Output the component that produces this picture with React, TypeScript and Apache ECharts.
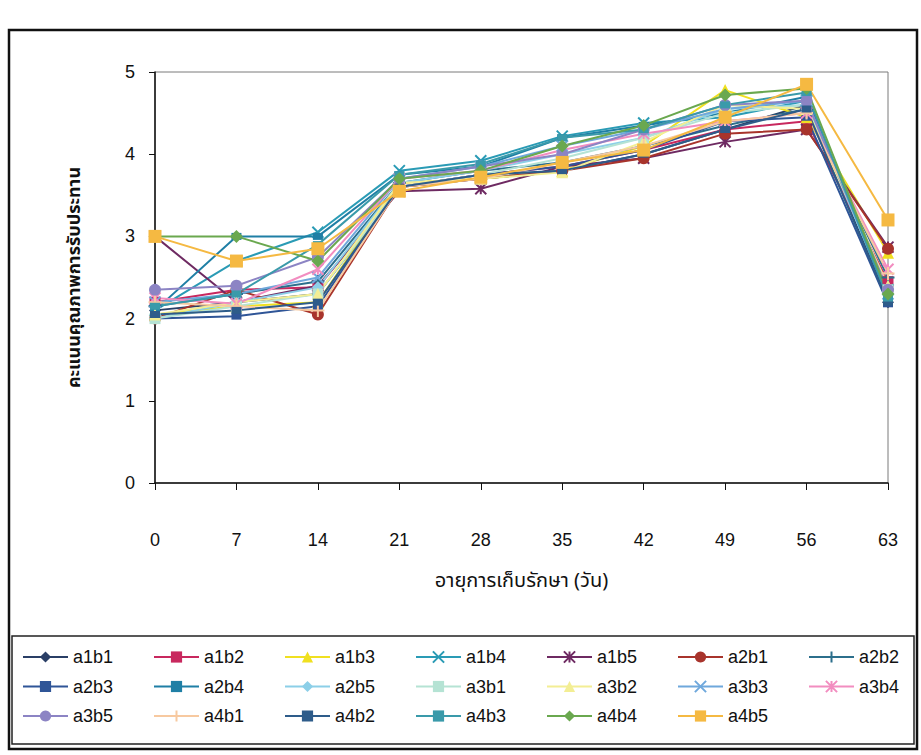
import React, { useEffect, useRef } from "react";
import * as echarts from "echarts";

// Storage days (x axis)
const days = ["0", "7", "14", "21", "28", "35", "42", "49", "56", "63"];

// Eating-quality scores per treatment
const a1b1 = [2.1, 2.2, 2.3, 3.6, 3.7, 3.8, 4.0, 4.3, 4.6, 2.2];
const a1b2 = [2.2, 2.35, 2.38, 3.6, 3.75, 3.85, 4.05, 4.3, 4.4, 2.45];
const a1b3 = [2.05, 2.15, 2.2, 3.65, 3.7, 3.8, 4.1, 4.78, 4.45, 2.8];
const a1b4 = [2.1, 2.7, 3.05, 3.8, 3.92, 4.22, 4.38, 4.45, 4.65, 2.35];
const a1b5 = [3.0, 2.2, 2.4, 3.55, 3.58, 3.85, 3.95, 4.15, 4.3, 2.87];
const a2b1 = [2.0, 2.35, 2.05, 3.6, 3.7, 3.8, 3.95, 4.25, 4.3, 2.85];
const a2b2 = [2.15, 2.3, 2.45, 3.65, 3.8, 3.9, 4.1, 4.35, 4.55, 2.5];
const a2b3 = [2.0, 2.03, 2.15, 3.6, 3.75, 3.85, 4.05, 4.4, 4.45, 2.18];
const a2b4 = [2.1, 3.0, 3.0, 3.75, 3.85, 4.2, 4.35, 4.5, 4.7, 2.25];
const a2b5 = [2.0, 2.2, 2.38, 3.65, 3.8, 4.0, 4.2, 4.55, 4.6, 2.3];
const a3b1 = [2.0, 2.15, 2.3, 3.6, 3.75, 3.95, 4.2, 4.5, 4.6, 2.35];
const a3b2 = [2.05, 2.2, 2.3, 3.65, 3.7, 3.78, 4.15, 4.6, 4.55, 2.4];
const a3b3 = [2.2, 2.3, 2.5, 3.7, 3.85, 4.1, 4.3, 4.55, 4.65, 2.3];
const a3b4 = [2.25, 2.18, 2.6, 3.7, 3.8, 4.05, 4.25, 4.4, 4.5, 2.6];
const a3b5 = [2.35, 2.4, 2.75, 3.7, 3.85, 4.0, 4.3, 4.6, 4.65, 2.35];
const a4b1 = [2.2, 2.15, 2.1, 3.6, 3.7, 3.9, 4.1, 4.4, 4.5, 2.55];
const a4b2 = [2.05, 2.1, 2.2, 3.6, 3.75, 3.8, 4.0, 4.3, 4.55, 2.2];
const a4b3 = [2.15, 2.3, 2.9, 3.75, 3.88, 4.2, 4.3, 4.6, 4.75, 2.25];
const a4b4 = [3.0, 3.0, 2.7, 3.7, 3.8, 4.1, 4.35, 4.72, 4.8, 2.3];
const a4b5 = [3.0, 2.7, 2.85, 3.55, 3.72, 3.9, 4.05, 4.45, 4.85, 3.2];

const yTicks = [0, 1, 2, 3, 4, 5];

const xTitle = "อายุการเก็บรักษา (วัน)";
const yTitle = "คะแนนคุณภาพการรับประทาน";

const X_SYM = "path://M0,0L10,10M10,0L0,10";
const STAR_SYM = "path://M0,0L10,10M10,0L0,10M5,0L5,10";
const PLUS_SYM = "path://M5,0L5,10M0,5L10,5";

type Def = { name: string; data: number[]; color: string; symbol: string; size: number | number[]; stroke?: boolean };

const defs: Def[] = [
  { name: "a1b1", data: a1b1, color: "#2a3f66", symbol: "diamond", size: 12 },
  { name: "a1b2", data: a1b2, color: "#c8285e", symbol: "rect", size: 11 },
  { name: "a1b3", data: a1b3, color: "#f0e020", symbol: "triangle", size: 12 },
  { name: "a1b4", data: a1b4, color: "#2a9bb5", symbol: X_SYM, size: 11, stroke: true },
  { name: "a1b5", data: a1b5, color: "#6e2a62", symbol: STAR_SYM, size: 11, stroke: true },
  { name: "a2b1", data: a2b1, color: "#a8342c", symbol: "circle", size: 12 },
  { name: "a2b2", data: a2b2, color: "#2c6f8c", symbol: PLUS_SYM, size: 13, stroke: true },
  { name: "a2b3", data: a2b3, color: "#2f5597", symbol: "rect", size: [10, 7] },
  { name: "a2b4", data: a2b4, color: "#1f7fa5", symbol: "rect", size: [10, 7] },
  { name: "a2b5", data: a2b5, color: "#8ccfe8", symbol: "diamond", size: 12 },
  { name: "a3b1", data: a3b1, color: "#b5e3d4", symbol: "rect", size: 11 },
  { name: "a3b2", data: a3b2, color: "#f3ee94", symbol: "triangle", size: 12 },
  { name: "a3b3", data: a3b3, color: "#6fa8dc", symbol: X_SYM, size: 11, stroke: true },
  { name: "a3b4", data: a3b4, color: "#f28dc0", symbol: STAR_SYM, size: 11, stroke: true },
  { name: "a3b5", data: a3b5, color: "#8c84c4", symbol: "circle", size: 12 },
  { name: "a4b1", data: a4b1, color: "#f7c9a0", symbol: PLUS_SYM, size: 13, stroke: true },
  { name: "a4b2", data: a4b2, color: "#2e5c8a", symbol: "rect", size: [10, 7] },
  { name: "a4b3", data: a4b3, color: "#3a9aaa", symbol: "rect", size: [10, 7] },
  { name: "a4b4", data: a4b4, color: "#6aa84f", symbol: "diamond", size: 13 },
  { name: "a4b5", data: a4b5, color: "#f5b942", symbol: "rect", size: 13 },
];

const latin = "'Liberation Sans', Arial, sans-serif";
const thai = "'Noto Sans Thai', Tahoma, 'Liberation Sans', sans-serif";

export default function App() {
  const ref = useRef<HTMLDivElement>(null);

  useEffect(() => {
    if (!ref.current) return;
    const chart = echarts.init(ref.current, null, { renderer: "svg" });

    // legend laid out as 7 columns of up to 3 rows
    const legends = [];
    for (let c = 0; c < 7; c++) {
      const names = [c, c + 7, c + 14].filter((i) => i < defs.length).map((i) => defs[i].name);
      legends.push({
        orient: "vertical",
        left: 22 + 131 * c,
        top: 648,
        itemWidth: 45,
        itemHeight: 14,
        itemGap: 11.5,
        padding: 0,
        selectedMode: false,
        data: names,
        textStyle: { fontFamily: latin, fontSize: 18, color: "#111", lineHeight: 18 },
      });
    }

    chart.setOption({
      animation: false,
      backgroundColor: "#fff",
      grid: {
        left: 155,
        right: 33,
        top: 72,
        bottom: 272,
        show: true,
        borderColor: "#7a7a7a",
        borderWidth: 1,
        backgroundColor: "transparent",
      },
      legend: legends,
      xAxis: {
        type: "category",
        data: days,
        boundaryGap: false,
        name: xTitle,
        nameLocation: "middle",
        nameGap: 88,
        nameTextStyle: { fontFamily: thai, fontSize: 20, color: "#111" },
        axisLine: { lineStyle: { color: "#111", width: 1.5 } },
        axisTick: { show: true, length: 7, lineStyle: { color: "#111" } },
        axisLabel: { margin: 48, fontFamily: latin, fontSize: 18, color: "#111" },
      },
      yAxis: {
        type: "value",
        min: yTicks[0],
        max: yTicks[yTicks.length - 1],
        interval: 1,
        name: yTitle,
        nameLocation: "middle",
        nameRotate: 90,
        nameGap: 72,
        nameTextStyle: { fontFamily: thai, fontSize: 18, fontWeight: "bold", color: "#111" },
        splitLine: { show: false },
        axisLine: { show: true, lineStyle: { color: "#111", width: 1.5 } },
        axisTick: { show: true, length: 6, lineStyle: { color: "#111" } },
        axisLabel: { margin: 20, fontFamily: latin, fontSize: 18, color: "#111" },
      },
      graphic: [
        {
          type: "rect",
          shape: { x: 9, y: 30, width: 908, height: 719 },
          style: { fill: "none", stroke: "#111", lineWidth: 2.5 },
          z: -1,
        },
        {
          type: "rect",
          shape: { x: 12, y: 636, width: 902, height: 108 },
          style: { fill: "none", stroke: "#222", lineWidth: 1.5 },
          z: -1,
        },
      ],
      series: defs.map((d) => ({
        name: d.name,
        type: "line",
        data: d.data,
        symbol: d.symbol,
        symbolSize: d.size,
        showAllSymbol: true,
        lineStyle: { color: d.color, width: 2 },
        itemStyle: {
          color: d.color,
          borderColor: d.color,
          borderWidth: d.stroke ? 2 : 0,
        },
      })),
    });

    return () => chart.dispose();
  }, []);

  return (
    <div
      ref={ref}
      style={{ position: "absolute", left: 0, top: 0, width: 921, height: 755 }}
    />
  );
}
